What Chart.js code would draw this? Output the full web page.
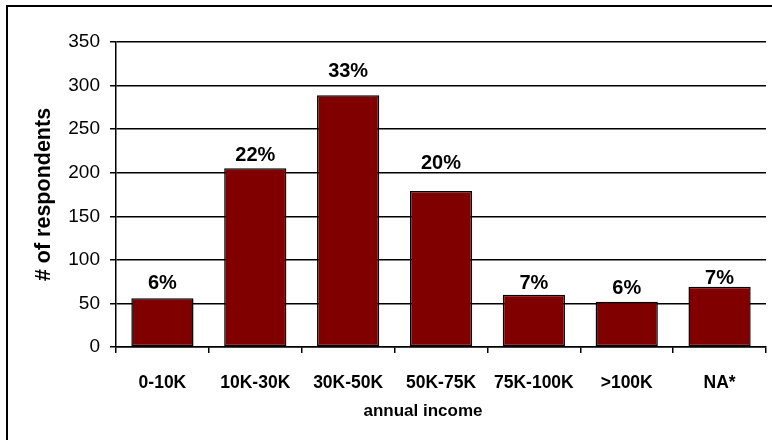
<!DOCTYPE html>
<html>
<head>
<meta charset="utf-8">
<script src="https://cdn.jsdelivr.net/npm/chart.js@4"></script>
<style>
  html, body { margin: 0; padding: 0; overflow: hidden; background: #fff; }
  #wrap { position: relative; width: 772px; height: 440px; overflow: hidden; }
  #frame { position: absolute; left: 6px; top: 5px; width: 900px; height: 600px; border: 2px solid #000; box-sizing: border-box; }
  canvas { position: absolute; left: 0; top: 0; }
</style>
</head>
<body>
<div id="wrap">
  <div id="frame"></div>
  <canvas id="chart" width="772" height="440"></canvas>
</div>
<script>
const categories = ['0-10K', '10K-30K', '30K-50K', '50K-75K', '75K-100K', '>100K', 'NA*'];
const respondents = [56, 205, 289, 179, 60, 52, 69];
const percentLabels = ['6%', '22%', '33%', '20%', '7%', '6%', '7%'];
const yTicks = [0, 50, 100, 150, 200, 250, 300, 350];

const FONT = '"Liberation Sans", Arial, sans-serif';
// gap in px between bar top and label baseline (labels were placed by hand in the original)
const labelLift = [9, 7, 18, 22, 6, 8, 3];

// percentage labels above each bar
const percentPlugin = {
    id: 'percentLabels',
    afterDatasetsDraw(chart) {
        const ctx = chart.ctx;
        const meta = chart.getDatasetMeta(0);
        ctx.save();
        ctx.font = 'bold 20px ' + FONT;
        ctx.fillStyle = '#000';
        ctx.textAlign = 'center';
        ctx.textBaseline = 'alphabetic';
        meta.data.forEach((bar, i) => {
            ctx.fillText(percentLabels[i], bar.x, bar.y - labelLift[i]);
        });
        ctx.restore();
    }
};

// x axis title, sits a bit left of the plot centre like the original
const xTitlePlugin = {
    id: 'xTitle',
    afterDraw(chart) {
        const ctx = chart.ctx;
        const area = chart.chartArea;
        ctx.save();
        ctx.font = 'bold 17px ' + FONT;
        ctx.fillStyle = '#000';
        ctx.textAlign = 'center';
        ctx.textBaseline = 'alphabetic';
        ctx.fillText('annual income', (area.left + area.right) / 2 - 18, 416);
        ctx.restore();
    }
};

new Chart(document.getElementById('chart'), {
    type: 'bar',
    data: {
        labels: categories,
        datasets: [{
            data: respondents,
            backgroundColor: '#800000',
            borderColor: '#000',
            borderWidth: 1.5,
            borderSkipped: false,
            categoryPercentage: 1,
            barPercentage: 0.67
        }]
    },
    options: {
        responsive: false,
        animation: false,
        layout: { padding: { top: 42, right: 6, left: 0, bottom: 0 } },
        plugins: {
            legend: { display: false },
            tooltip: { enabled: false }
        },
        scales: {
            x: {
                afterFit: (s) => { s.height = 93; },
                grid: {
                    offset: true,
                    drawOnChartArea: false,
                    drawTicks: true,
                    tickLength: 6,
                    color: '#000',
                    lineWidth: 1.5
                },
                border: { display: true, color: '#000', width: 1.5 },
                ticks: {
                    color: '#000',
                    padding: 20,
                    maxRotation: 0,
                    autoSkip: false,
                    font: { family: FONT, size: 17.5, weight: 'bold' }
                }
            },
            y: {
                min: 0,
                max: 350,
                afterFit: (s) => { s.width = 116; },
                afterBuildTicks: (s) => { s.ticks = yTicks.map(v => ({ value: v })); },
                grid: {
                    color: '#000',
                    lineWidth: 1.5,
                    drawTicks: true,
                    tickLength: 6
                },
                border: { display: true, color: '#000', width: 1.5 },
                ticks: {
                    color: '#000',
                    padding: 10,
                    font: { family: FONT, size: 19 }
                },
                title: {
                    display: true,
                    text: '# of respondents',
                    color: '#000',
                    padding: { top: 31, bottom: 0 },
                    font: { family: FONT, size: 21.5, weight: 'bold' }
                }
            }
        }
    },
    plugins: [percentPlugin, xTitlePlugin]
});
</script>
</body>
</html>
